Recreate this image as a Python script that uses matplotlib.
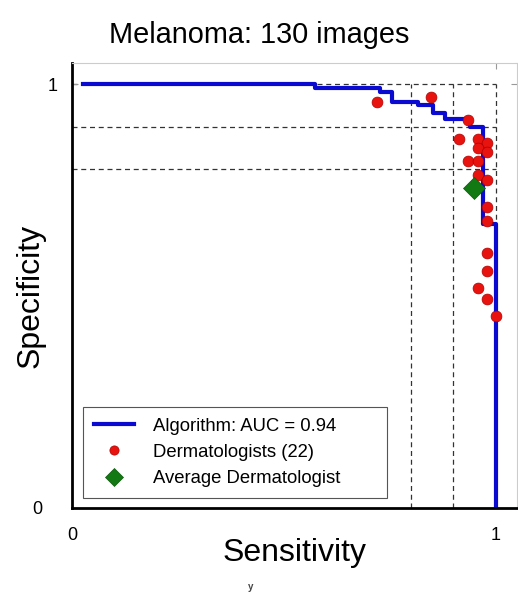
"""ROC curve, melanoma: algorithm vs dermatologists."""
import matplotlib
matplotlib.use("Agg")
import matplotlib.pyplot as plt
from matplotlib.transforms import ScaledTranslation

plt.rcParams["font.family"] = ["Liberation Sans", "DejaVu Sans"]

# algorithm curve (corners, drawn as steps-post)
curve_sens = [0.027, 0.573, 0.726, 0.756, 0.817, 0.851, 0.880, 0.939, 0.970, 1.0]
curve_spec = [1.0, 0.992, 0.982, 0.959, 0.950, 0.931, 0.917, 0.900, 0.671, 0.0]

# dermatologists
derm_sens = [0.719, 0.848, 0.935, 0.914, 0.958, 0.980, 0.958, 0.980, 0.935, 0.958,
             0.958, 0.980, 0.980, 0.980, 0.980, 0.980, 0.958, 0.980, 1.0]
derm_spec = [0.957, 0.969, 0.915, 0.870, 0.870, 0.861, 0.849, 0.840, 0.819, 0.819,
             0.785, 0.774, 0.711, 0.677, 0.602, 0.560, 0.518, 0.494, 0.452]

avg_sens = [0.948]
avg_spec = [0.754]

ref_levels = [0.8, 0.9, 1.0]

fig = plt.figure(figsize=(5.18, 5.93), dpi=100)
ax = fig.add_axes([72/518, 1 - 508/593, 445/518, 445/593])

for v in ref_levels:
    ax.plot([0, 1], [v, v], ls=(0, (4, 3)), color="#333333", lw=0.9, zorder=1)
    ax.plot([v, v], [0, 1], ls=(0, (4, 3)), color="#333333", lw=0.9, zorder=1)

ax.plot(curve_sens, curve_spec, drawstyle="steps-post", color="#0a0ad0", lw=3,
        label="Algorithm: AUC = 0.94", zorder=2)
ax.plot(derm_sens, derm_spec, "o", ls="none", ms=7.8, color="#e8130f",
        mec="#b00000", mew=0.5, label="Dermatologists (22)", zorder=3)
ax.plot(avg_sens, avg_spec, "D", ls="none", ms=11, color="#137a13",
        mec="#0b5a0b", mew=0.5, label="Average Dermatologist", zorder=4)

ax.set_xlim(0, 1.05)
ax.set_ylim(0, 1.05)
ax.set_xticks([0, 1])
ax.set_yticks([0, 1])
ax.set_xticklabels(["0", "1"])
ax.set_yticklabels(["0", "1"])
ax.tick_params(direction="in", length=4, labelsize=13, top=True, right=True,
               color="#999999", pad=14)
ax.tick_params(axis="y", pad=14)

# the "1" on the y axis sits closer to the spine than the "0"
lab1 = ax.get_yticklabels()[1]
lab1.set_transform(lab1.get_transform() + ScaledTranslation(5/100, 0, fig.dpi_scale_trans))
lab0 = ax.get_yticklabels()[0]
lab0.set_transform(lab0.get_transform() + ScaledTranslation(-10/100, 0, fig.dpi_scale_trans))

for s in ["left", "bottom"]:
    ax.spines[s].set_linewidth(2)
    ax.spines[s].set_color("black")
for s in ["top", "right"]:
    ax.spines[s].set_linewidth(0.8)
    ax.spines[s].set_color("#cccccc")

ax.set_xlabel("Sensitivity", fontsize=23, labelpad=-5)
ax.set_ylabel("Specificity", fontsize=23)
ax.yaxis.set_label_coords(-0.059, 0.476)
fig.text(0.5, 1 - 35/593, "Melanoma: 130 images", fontsize=20.8,
         ha="center", va="center")

leg = ax.legend(loc="lower left", bbox_to_anchor=(0.024, 0.022, 0.683, 0.2),
                mode="expand", borderaxespad=0, fontsize=13.3, handlelength=2.2,
                handletextpad=1.0, labelspacing=0.5, borderpad=0.6,
                fancybox=False, framealpha=1, markerscale=0.85)
leg.get_frame().set_edgecolor("#555555")
leg.get_frame().set_linewidth(0.8)

fig.text(251/518, 1 - 587/593, "y", fontsize=7, fontweight="bold",
         color="#444444", ha="center", va="center")

fig.savefig("out.png", dpi=100)
